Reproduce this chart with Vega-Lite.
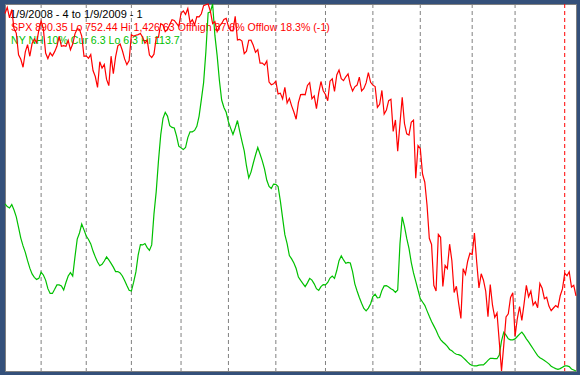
{
  "$schema": "https://vega.github.io/schema/vega-lite/v6.json",
  "width": 571,
  "height": 367,
  "autosize": {"type": "none"},
  "padding": {"left": 5, "top": 4, "right": 4, "bottom": 4},
  "background": "#34507a",
  "view": {"fill": "#ffffff", "stroke": "#808080", "strokeWidth": 1},
  "datasets": {
    "series": [
      {"i":0,"spx":1409.13,"nh":55.2},{"i":1,"spx":1420.33,"nh":54.4},{"i":2,"spx":1401.02,"nh":54.0},{"i":3,"spx":1416.25,"nh":55.0},{"i":4,"spx":1380.95,"nh":53.4},{"i":5,"spx":1373.20,"nh":51.4},{"i":6,"spx":1333.25,"nh":48.3},{"i":7,"spx":1325.19,"nh":45.2},{"i":8,"spx":1310.50,"nh":42.9},{"i":9,"spx":1338.60,"nh":41.0},
      {"i":10,"spx":1352.07,"nh":38.6},{"i":11,"spx":1330.61,"nh":36.4},{"i":12,"spx":1353.97,"nh":34.7},{"i":13,"spx":1362.30,"nh":33.7},{"i":14,"spx":1355.81,"nh":33.1},{"i":15,"spx":1378.55,"nh":33.4},{"i":16,"spx":1395.42,"nh":35.2},{"i":17,"spx":1380.82,"nh":34.4},{"i":18,"spx":1336.64,"nh":32.9},{"i":19,"spx":1326.45,"nh":30.4},
      {"i":20,"spx":1336.91,"nh":29.0},{"i":21,"spx":1331.29,"nh":29.0},{"i":22,"spx":1339.13,"nh":30.2},{"i":23,"spx":1348.86,"nh":31.5},{"i":24,"spx":1367.21,"nh":31.5},{"i":25,"spx":1348.86,"nh":31.2},{"i":26,"spx":1349.99,"nh":30.0},{"i":27,"spx":1348.78,"nh":32.2},{"i":28,"spx":1360.03,"nh":34.1},{"i":29,"spx":1342.53,"nh":35.1},
      {"i":30,"spx":1353.11,"nh":34.1},{"i":31,"spx":1371.80,"nh":39.7},{"i":32,"spx":1381.29,"nh":44.9},{"i":33,"spx":1380.02,"nh":46.7},{"i":34,"spx":1367.68,"nh":49.3},{"i":35,"spx":1330.63,"nh":47.6},{"i":36,"spx":1331.34,"nh":45.8},{"i":37,"spx":1326.75,"nh":44.8},{"i":38,"spx":1333.70,"nh":43.5},{"i":39,"spx":1304.34,"nh":41.4},
      {"i":40,"spx":1293.37,"nh":39.7},{"i":41,"spx":1273.37,"nh":38.2},{"i":42,"spx":1320.65,"nh":37.1},{"i":43,"spx":1308.77,"nh":37.5},{"i":44,"spx":1315.48,"nh":38.5},{"i":45,"spx":1288.14,"nh":39.7},{"i":46,"spx":1276.60,"nh":38.8},{"i":47,"spx":1330.74,"nh":37.8},{"i":48,"spx":1298.42,"nh":36.7},{"i":49,"spx":1329.51,"nh":35.4},
      {"i":50,"spx":1349.88,"nh":35.4},{"i":51,"spx":1352.99,"nh":35.0},{"i":52,"spx":1341.13,"nh":34.1},{"i":53,"spx":1325.76,"nh":32.8},{"i":54,"spx":1315.22,"nh":31.3},{"i":55,"spx":1322.70,"nh":29.9},{"i":56,"spx":1370.18,"nh":29.7},{"i":57,"spx":1367.53,"nh":32.3},{"i":58,"spx":1369.31,"nh":35.3},{"i":59,"spx":1370.40,"nh":40.2},
      {"i":60,"spx":1372.54,"nh":43.3},{"i":61,"spx":1365.54,"nh":43.2},{"i":62,"spx":1354.49,"nh":43.6},{"i":63,"spx":1360.55,"nh":42.4},{"i":64,"spx":1332.83,"nh":41.6},{"i":65,"spx":1328.32,"nh":43.2},{"i":66,"spx":1334.43,"nh":52.2},{"i":67,"spx":1364.71,"nh":58.8},{"i":68,"spx":1365.56,"nh":67.8},{"i":69,"spx":1390.33,"nh":75.4},
      {"i":70,"spx":1388.17,"nh":80.2},{"i":71,"spx":1375.94,"nh":82.0},{"i":72,"spx":1379.93,"nh":80.9},{"i":73,"spx":1388.82,"nh":78.1},{"i":74,"spx":1397.84,"nh":77.6},{"i":75,"spx":1396.37,"nh":77.4},{"i":76,"spx":1390.94,"nh":75.1},{"i":77,"spx":1385.59,"nh":72.1},{"i":78,"spx":1409.34,"nh":71.6},{"i":79,"spx":1413.90,"nh":71.1},
      {"i":80,"spx":1407.49,"nh":71.7},{"i":81,"spx":1418.26,"nh":74.6},{"i":82,"spx":1392.57,"nh":76.3},{"i":83,"spx":1397.68,"nh":76.3},{"i":84,"spx":1388.28,"nh":76.7},{"i":85,"spx":1403.58,"nh":77.9},{"i":86,"spx":1403.04,"nh":80.9},{"i":87,"spx":1408.66,"nh":85.7},{"i":88,"spx":1423.57,"nh":90.7},{"i":89,"spx":1425.35,"nh":99.7},
      {"i":90,"spx":1426.63,"nh":111.1},{"i":91,"spx":1413.40,"nh":111.4},{"i":92,"spx":1390.71,"nh":113.7},{"i":93,"spx":1394.35,"nh":104.5},{"i":94,"spx":1375.93,"nh":98.6},{"i":95,"spx":1385.35,"nh":91.3},{"i":96,"spx":1390.84,"nh":85.6},{"i":97,"spx":1398.26,"nh":83.4},{"i":98,"spx":1400.38,"nh":82.0},{"i":99,"spx":1385.67,"nh":79.2},
      {"i":100,"spx":1377.65,"nh":77.3},{"i":101,"spx":1377.20,"nh":75.5},{"i":102,"spx":1404.05,"nh":77.4},{"i":103,"spx":1360.68,"nh":79.6},{"i":104,"spx":1361.76,"nh":76.4},{"i":105,"spx":1358.44,"nh":73.5},{"i":106,"spx":1335.49,"nh":70.7},{"i":107,"spx":1339.87,"nh":66.3},{"i":108,"spx":1360.03,"nh":62.8},{"i":109,"spx":1360.14,"nh":64.5},
      {"i":110,"spx":1350.93,"nh":67.1},{"i":111,"spx":1337.81,"nh":69.5},{"i":112,"spx":1342.83,"nh":71.7},{"i":113,"spx":1317.93,"nh":69.8},{"i":114,"spx":1318.00,"nh":67.8},{"i":115,"spx":1314.29,"nh":65.4},{"i":116,"spx":1321.97,"nh":62.1},{"i":117,"spx":1283.15,"nh":60.3},{"i":118,"spx":1278.38,"nh":59.7},{"i":119,"spx":1280.00,"nh":61.0},
      {"i":120,"spx":1284.91,"nh":60.9},{"i":121,"spx":1261.52,"nh":60.3},{"i":122,"spx":1262.90,"nh":56.1},{"i":123,"spx":1252.31,"nh":51.1},{"i":124,"spx":1273.70,"nh":46.2},{"i":125,"spx":1244.69,"nh":43.6},{"i":126,"spx":1253.39,"nh":40.1},{"i":127,"spx":1239.49,"nh":39.1},{"i":128,"spx":1228.30,"nh":37.9},{"i":129,"spx":1214.91,"nh":36.3},
      {"i":130,"spx":1245.36,"nh":33.8},{"i":131,"spx":1260.32,"nh":32.8},{"i":132,"spx":1260.68,"nh":31.9},{"i":133,"spx":1260.00,"nh":31.0},{"i":134,"spx":1277.00,"nh":32.1},{"i":135,"spx":1282.19,"nh":33.4},{"i":136,"spx":1252.54,"nh":32.9},{"i":137,"spx":1257.76,"nh":31.8},{"i":138,"spx":1234.37,"nh":30.4},{"i":139,"spx":1263.20,"nh":29.9},
      {"i":140,"spx":1284.26,"nh":31.0},{"i":141,"spx":1267.38,"nh":31.6},{"i":142,"spx":1260.31,"nh":31.5},{"i":143,"spx":1249.01,"nh":32.2},{"i":144,"spx":1284.88,"nh":33.5},{"i":145,"spx":1289.19,"nh":34.1},{"i":146,"spx":1266.07,"nh":33.4},{"i":147,"spx":1296.32,"nh":35.7},{"i":148,"spx":1305.32,"nh":38.6},{"i":149,"spx":1289.59,"nh":40.0},
      {"i":150,"spx":1285.83,"nh":38.8},{"i":151,"spx":1292.93,"nh":37.8},{"i":152,"spx":1298.20,"nh":38.1},{"i":153,"spx":1278.60,"nh":37.9},{"i":154,"spx":1266.69,"nh":35.4},{"i":155,"spx":1274.54,"nh":31.8},{"i":156,"spx":1277.72,"nh":29.7},{"i":157,"spx":1292.20,"nh":27.8},{"i":158,"spx":1266.84,"nh":26.1},{"i":159,"spx":1271.51,"nh":24.6},
      {"i":160,"spx":1281.66,"nh":23.9},{"i":161,"spx":1300.68,"nh":24.7},{"i":162,"spx":1282.83,"nh":26.0},{"i":163,"spx":1277.58,"nh":28.1},{"i":164,"spx":1274.98,"nh":28.8},{"i":165,"spx":1236.83,"nh":27.7},{"i":166,"spx":1242.31,"nh":27.8},{"i":167,"spx":1267.79,"nh":29.9},{"i":168,"spx":1224.51,"nh":31.2},{"i":169,"spx":1232.04,"nh":31.3},
      {"i":170,"spx":1249.05,"nh":30.9},{"i":171,"spx":1251.70,"nh":30.4},{"i":172,"spx":1192.70,"nh":30.0},{"i":173,"spx":1213.60,"nh":29.3},{"i":174,"spx":1156.39,"nh":30.0},{"i":175,"spx":1206.51,"nh":43.5},{"i":176,"spx":1255.08,"nh":51.4},{"i":177,"spx":1207.09,"nh":48.6},{"i":178,"spx":1188.22,"nh":45.1},{"i":179,"spx":1185.87,"nh":42.2},
      {"i":180,"spx":1209.18,"nh":38.1},{"i":181,"spx":1213.27,"nh":35.0},{"i":182,"spx":1106.39,"nh":32.5},{"i":183,"spx":1166.36,"nh":30.0},{"i":184,"spx":1161.06,"nh":27.5},{"i":185,"spx":1114.28,"nh":26.5},{"i":186,"spx":1099.23,"nh":25.5},{"i":187,"spx":1056.89,"nh":23.9},{"i":188,"spx":996.23,"nh":22.3},{"i":189,"spx":984.94,"nh":20.8},
      {"i":190,"spx":909.92,"nh":19.5},{"i":191,"spx":899.22,"nh":18.2},{"i":192,"spx":1003.35,"nh":16.7},{"i":193,"spx":998.01,"nh":15.5},{"i":194,"spx":907.84,"nh":14.8},{"i":195,"spx":946.43,"nh":14.2},{"i":196,"spx":940.55,"nh":13.5},{"i":197,"spx":985.40,"nh":12.6},{"i":198,"spx":955.05,"nh":12.2},{"i":199,"spx":896.78,"nh":11.6},
      {"i":200,"spx":908.11,"nh":11.2},{"i":201,"spx":876.77,"nh":11.1},{"i":202,"spx":848.92,"nh":10.8},{"i":203,"spx":940.51,"nh":10.2},{"i":204,"spx":930.09,"nh":9.6},{"i":205,"spx":954.09,"nh":8.9},{"i":206,"spx":968.75,"nh":8.3},{"i":207,"spx":966.30,"nh":7.9},{"i":208,"spx":1005.75,"nh":7.8},{"i":209,"spx":952.77,"nh":7.8},
      {"i":210,"spx":904.88,"nh":8.0},{"i":211,"spx":930.99,"nh":8.1},{"i":212,"spx":919.21,"nh":8.1},{"i":213,"spx":898.95,"nh":8.7},{"i":214,"spx":852.30,"nh":9.4},{"i":215,"spx":911.29,"nh":10.0},{"i":216,"spx":873.29,"nh":10.0},{"i":217,"spx":850.75,"nh":9.9},{"i":218,"spx":859.12,"nh":9.9},{"i":219,"spx":806.58,"nh":11.0},
      {"i":220,"spx":752.44,"nh":15.1},{"i":221,"spx":800.03,"nh":17.6},{"i":222,"spx":851.81,"nh":16.8},{"i":223,"spx":857.39,"nh":15.7},{"i":224,"spx":887.68,"nh":15.4},{"i":225,"spx":896.24,"nh":15.4},{"i":226,"spx":816.21,"nh":15.7},{"i":227,"spx":848.81,"nh":16.4},{"i":228,"spx":870.74,"nh":17.1},{"i":229,"spx":845.22,"nh":17.7},
      {"i":230,"spx":876.07,"nh":16.8},{"i":231,"spx":909.70,"nh":15.7},{"i":232,"spx":888.67,"nh":14.8},{"i":233,"spx":899.24,"nh":13.8},{"i":234,"spx":873.59,"nh":12.8},{"i":235,"spx":879.73,"nh":11.8},{"i":236,"spx":868.57,"nh":10.8},{"i":237,"spx":913.18,"nh":10.2},{"i":238,"spx":904.42,"nh":9.8},{"i":239,"spx":885.28,"nh":9.4},
      {"i":240,"spx":887.88,"nh":8.9},{"i":241,"spx":871.63,"nh":8.4},{"i":242,"spx":863.16,"nh":7.7},{"i":243,"spx":868.15,"nh":7.3},{"i":244,"spx":872.80,"nh":7.0},{"i":245,"spx":869.42,"nh":6.8},{"i":246,"spx":890.64,"nh":7.0},{"i":247,"spx":903.25,"nh":7.4},{"i":248,"spx":931.80,"nh":7.8},{"i":249,"spx":927.45,"nh":7.8},
      {"i":250,"spx":934.70,"nh":7.6},{"i":251,"spx":906.65,"nh":6.9},{"i":252,"spx":909.73,"nh":6.6},{"i":253,"spx":890.35,"nh":6.3}
    ],
    "months": [{"i":16},{"i":36},{"i":56},{"i":78},{"i":99},{"i":120},{"i":142},{"i":163},{"i":184},{"i":207},{"i":226}],
    "year": [{"i":248}]
  },
  "layer": [
    {
      "data": {"values": [{"label": "1/9/2008 - 4 to 1/9/2009 - 1"}]},
      "mark": {"type": "text", "align": "left", "baseline": "alphabetic", "x": 5, "y": 14, "font": "Liberation Sans", "fontSize": 11, "color": "#000000"},
      "encoding": {"text": {"field": "label"}}
    },
    {
      "data": {"values": [{"label": "SPX 890.35 Lo 752.44 Hi 1,426.63 Offhigh 37.6% Offlow 18.3% (-1)"}]},
      "mark": {"type": "text", "align": "left", "baseline": "alphabetic", "x": 6, "y": 27, "font": "Liberation Sans", "fontSize": 10.6, "color": "#ff0000"},
      "encoding": {"text": {"field": "label"}}
    },
    {
      "data": {"values": [{"label": "NY NH 10% Cur 6.3 Lo 6.3 Hi 113.7"}]},
      "mark": {"type": "text", "align": "left", "baseline": "alphabetic", "x": 6, "y": 39.5, "font": "Liberation Sans", "fontSize": 10.6, "color": "#00c000"},
      "encoding": {"text": {"field": "label"}}
    },
    {
      "data": {"name": "months"},
      "mark": {"type": "rule", "color": "#808080", "strokeWidth": 1, "strokeDash": [4, 3]},
      "encoding": {"x": {"field": "i", "type": "quantitative", "scale": {"domain": [0, 253], "nice": false, "zero": false}, "axis": null}}
    },
    {
      "data": {"name": "year"},
      "mark": {"type": "rule", "color": "#ff0000", "strokeWidth": 1, "strokeDash": [4, 3]},
      "encoding": {"x": {"field": "i", "type": "quantitative", "axis": null}}
    },
    {
      "data": {"name": "series"},
      "mark": {"type": "line", "color": "#00c000", "strokeWidth": 1.2},
      "encoding": {
        "x": {"field": "i", "type": "quantitative", "axis": null},
        "y": {"field": "nh", "type": "quantitative", "scale": {"domain": [6.3, 113.7], "nice": false, "zero": false}, "axis": null}
      }
    },
    {
      "data": {"name": "series"},
      "mark": {"type": "line", "color": "#ff0000", "strokeWidth": 1.2},
      "encoding": {
        "x": {"field": "i", "type": "quantitative", "axis": null},
        "y": {"field": "spx", "type": "quantitative", "scale": {"domain": [752.44, 1426.63], "nice": false, "zero": false}, "axis": null}
      }
    }
  ],
  "resolve": {"scale": {"y": "independent"}}
}
